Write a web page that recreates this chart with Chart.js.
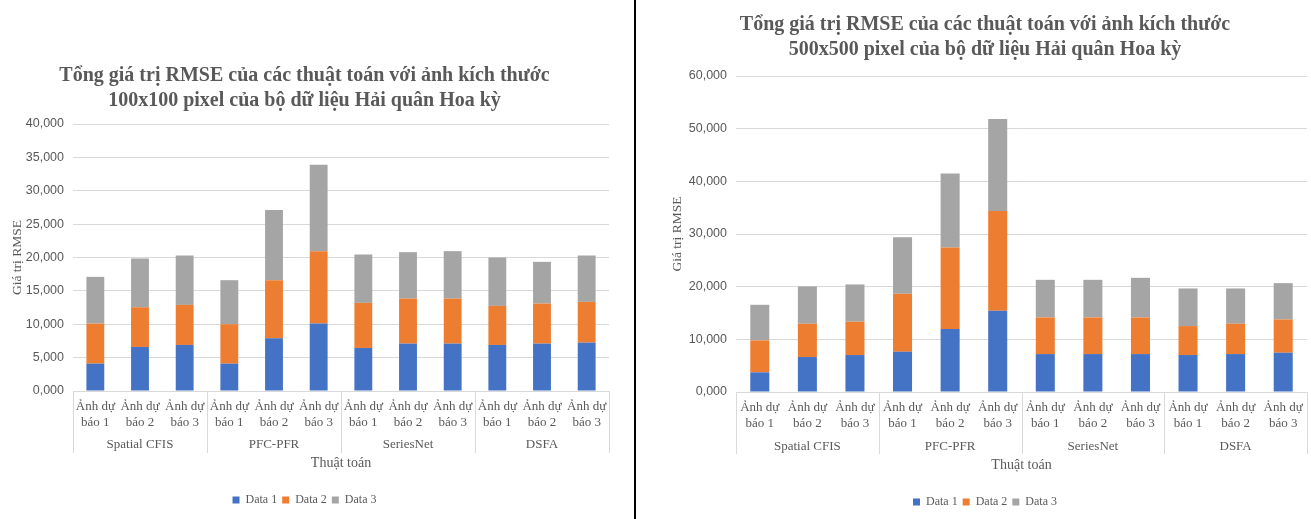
<!DOCTYPE html>
<html>
<head>
<meta charset="utf-8">
<script src="https://cdn.jsdelivr.net/npm/chart.js@4.4.1/dist/chart.umd.min.js"></script>
<style>
  html, body { margin: 0; padding: 0; background: #fff; }
  body { width: 1311px; height: 519px; position: relative; overflow: hidden; }
  .box { position: absolute; top: 0; height: 519px; }
  #divider { position: absolute; left: 634px; top: 0; width: 2px; height: 519px; background: #000; }
</style>
</head>
<body>
<div class="box" id="boxL" style="left:0px;width:615px;"><canvas id="cL"></canvas></div>
<div id="divider"></div>
<div class="box" id="boxR" style="left:640px;width:671px;"><canvas id="cR"></canvas></div>
<script>
// ---- data ----
const categories = [
  ['Ảnh dự', 'báo 1'], ['Ảnh dự', 'báo 2'], ['Ảnh dự', 'báo 3'],
  ['Ảnh dự', 'báo 1'], ['Ảnh dự', 'báo 2'], ['Ảnh dự', 'báo 3'],
  ['Ảnh dự', 'báo 1'], ['Ảnh dự', 'báo 2'], ['Ảnh dự', 'báo 3'],
  ['Ảnh dự', 'báo 1'], ['Ảnh dự', 'báo 2'], ['Ảnh dự', 'báo 3']
];
const groups = ['Spatial CFIS', 'PFC-PFR', 'SeriesNet', 'DSFA'];
const seriesNames = ['Data 1', 'Data 2', 'Data 3'];

const titleL = ['Tổng giá trị RMSE của các thuật toán với ảnh kích thước', '100x100 pixel của bộ dữ liệu Hải quân Hoa kỳ'];
const titleR = ['Tổng giá trị RMSE của các thuật toán với ảnh kích thước', '500x500 pixel của bộ dữ liệu Hải quân Hoa kỳ'];
const yTitle = 'Giá trị RMSE';
const xTitle = 'Thuật toán';

const data1_100 = [4.1, 6.6, 6.9, 4.1, 7.9, 10.1, 6.45, 7.1, 7.1, 6.9, 7.1, 7.25];
const data2_100 = [6.0, 5.95, 6.0, 5.9, 8.7, 10.85, 6.75, 6.75, 6.75, 5.85, 6.0, 6.1];
const data3_100 = [7.0, 7.3, 7.4, 6.6, 10.5, 12.95, 7.25, 6.95, 7.1, 7.25, 6.25, 6.95];

const data1_500 = [3.73, 6.64, 7.02, 7.65, 11.95, 15.42, 7.2, 7.2, 7.2, 7.02, 7.2, 7.46];
const data2_500 = [6.07, 6.32, 6.32, 11.0, 15.48, 18.97, 6.96, 6.96, 6.96, 5.5, 5.76, 6.32];
const data3_500 = [6.76, 7.08, 7.08, 10.74, 14.04, 17.44, 7.14, 7.14, 7.52, 7.14, 6.7, 6.89];

const yMaxL = 40, yStepL = 5;
const yMaxR = 60, yStepR = 10;

// ---- styles ----
const colors = ['#4472C4', '#ED7D31', '#A5A5A5'];
const textColor = '#595959';
const gridColor = '#d9d9d9';
const serif = "'Liberation Serif', 'Times New Roman', serif";
const sans = "'Liberation Sans', Arial, sans-serif";

const groupSeparators = {
  id: 'groupSeparators',
  afterDraw(chart) {
    const x = chart.scales.x, x2 = chart.scales.x2;
    const ctx = chart.ctx;
    const per = categories.length / groups.length;
    ctx.save();
    ctx.strokeStyle = gridColor;
    ctx.lineWidth = 1;
    for (let g = 0; g <= groups.length; g++) {
      const idx = g * per;
      let px;
      if (idx < categories.length) {
        px = (x.getPixelForValue(idx) + (idx > 0 ? x.getPixelForValue(idx - 1) : 2 * x.getPixelForValue(idx) - x.getPixelForValue(idx + 1))) / 2;
      } else {
        px = (x.getPixelForValue(idx - 1) * 3 - x.getPixelForValue(idx - 2)) / 2;
      }
      px = Math.round(px) + 0.5;
      ctx.beginPath();
      ctx.moveTo(px, x.top);
      ctx.lineTo(px, x2.top + 21);
      ctx.stroke();
    }
    ctx.restore();
  }
};

function makeChart(id, title, d1, d2, d3, yMax, yStep, o) {
  return new Chart(document.getElementById(id), {
    type: 'bar',
    data: {
      labels: categories,
      datasets: [d1, d2, d3].map((d, i) => ({
        label: seriesNames[i],
        data: d,
        backgroundColor: colors[i],
        borderWidth: 0,
        barPercentage: 0.4,
        categoryPercentage: 1.0,
        xAxisID: 'x',
        yAxisID: 'y'
      }))
    },
    options: {
      responsive: true,
      maintainAspectRatio: false,
      animation: false,
      layout: { padding: { left: o.padLeft, right: o.padRight, top: 0, bottom: o.padBottom } },
      plugins: {
        title: {
          display: true,
          text: title,
          color: textColor,
          font: { family: serif, size: 20, weight: 'bold', lineHeight: 25 / 20 },
          padding: { top: o.titleTop, bottom: o.titleBottom }
        },
        legend: {
          position: 'bottom',
          labels: {
            color: textColor,
            font: { family: serif, size: 12 },
            boxWidth: 7,
            boxHeight: 7,
            padding: 5
          }
        },
        tooltip: { enabled: false }
      },
      scales: {
        x: {
          stacked: true,
          offset: true,
          grid: { display: false, drawTicks: false },
          border: { display: true, color: gridColor },
          ticks: {
            color: textColor,
            font: { family: serif, size: 13, lineHeight: 16 / 13 },
            padding: 8,
            maxRotation: 0,
            autoSkip: false
          },
          afterFit(s) { s.height = 41; }
        },
        x2: {
          type: 'category',
          labels: groups,
          position: 'bottom',
          offset: true,
          grid: { display: false, drawTicks: false },
          border: { display: false },
          ticks: {
            color: textColor,
            font: { family: serif, size: 13, lineHeight: 16 / 13 },
            padding: o.groupPad,
            maxRotation: 0,
            autoSkip: false
          },
          title: {
            display: true,
            text: xTitle,
            color: textColor,
            font: { family: serif, size: 14, lineHeight: 16 / 14 },
            padding: { top: 0, bottom: o.xTitlePadB }
          },
          afterFit(s) { s.height = o.x2Height; }
        },
        y: {
          stacked: true,
          min: 0,
          max: yMax,
          grid: { color: gridColor, lineWidth: 1, drawTicks: false },
          border: { display: false },
          ticks: {
            stepSize: yStep,
            color: textColor,
            font: { family: sans, size: 12.5 },
            padding: 9,
            callback: v => v.toFixed(3).replace('.', ',')
          },
          title: {
            display: true,
            text: yTitle,
            color: textColor,
            font: { family: serif, size: 13.5, lineHeight: 16 / 13.5 },
            padding: { top: o.yTitlePad, bottom: 0 }
          },
          afterFit(s) { s.width = 73; }
        }
      }
    },
    plugins: [groupSeparators]
  });
}

makeChart('cL', titleL, data1_100, data2_100, data3_100, yMaxL, yStepL,
  { padLeft: 0, padRight: 6, padBottom: 3, titleTop: 63, titleBottom: 11, groupPad: 5, x2Height: 57, xTitlePadB: 18, yTitlePad: 9 });
makeChart('cR', titleR, data1_500, data2_500, data3_500, yMaxR, yStepR,
  { padLeft: 23, padRight: 4, padBottom: 1, titleTop: 12, titleBottom: 14, groupPad: 6, x2Height: 58, xTitlePadB: 18, yTitlePad: 6 });
</script>
</body>
</html>
